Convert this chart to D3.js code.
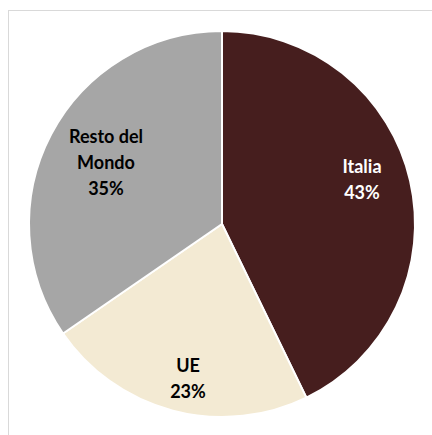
<!DOCTYPE html>
<html><head><meta charset="utf-8">
<script src="https://cdn.jsdelivr.net/npm/d3@7"></script>
<style>body{margin:0;background:#fff}svg{display:block}</style>
</head><body>
<svg id="c" width="432" height="435"></svg>
<script>
const categories = ["Italia", "UE", "Resto del Mondo"];
const labelLines = [["Italia"], ["UE"], ["Resto del", "Mondo"]];
const values = [42.8, 22.6, 34.6];
const colors = ["#461e1e", "#f3ead3", "#a6a6a6"];
const textColors = ["#ffffff", "#000000", "#000000"];
const labelPos = [[362, 173], [188, 372], [106, 143]];

const svg = d3.select("#c");
svg.append("rect").attr("x", 8.5).attr("y", 10.5).attr("width", 440).attr("height", 440)
  .attr("fill", "none").attr("stroke", "#d9d9d9").attr("stroke-width", 1);

const cx = 222, cy = 224, r = 193;
const g = svg.append("g").attr("transform", `translate(${cx},${cy})`);
const data = categories.map((c, i) => ({c, v: values[i], i}));
const pie = d3.pie().value(d => d.v).sort(null);
const arc = d3.arc().innerRadius(0).outerRadius(r);
g.selectAll("path").data(pie(data)).join("path")
  .attr("d", arc).attr("fill", d => colors[d.data.i])
  .attr("stroke", "#fff").attr("stroke-width", 2);

data.forEach((d, i) => {
  const lines = labelLines[i].concat([Math.round(d.v) + "%"]);
  const t = svg.append("text").attr("text-anchor", "middle")
    .attr("font-family", "Lato, 'Open Sans', sans-serif").attr("font-weight", "bold")
    .attr("font-size", 18).attr("fill", textColors[i]);
  lines.forEach((l, k) => {
    t.append("tspan").attr("x", labelPos[i][0]).attr("y", labelPos[i][1] + k * 26).text(l);
  });
});
</script>
</body></html>
